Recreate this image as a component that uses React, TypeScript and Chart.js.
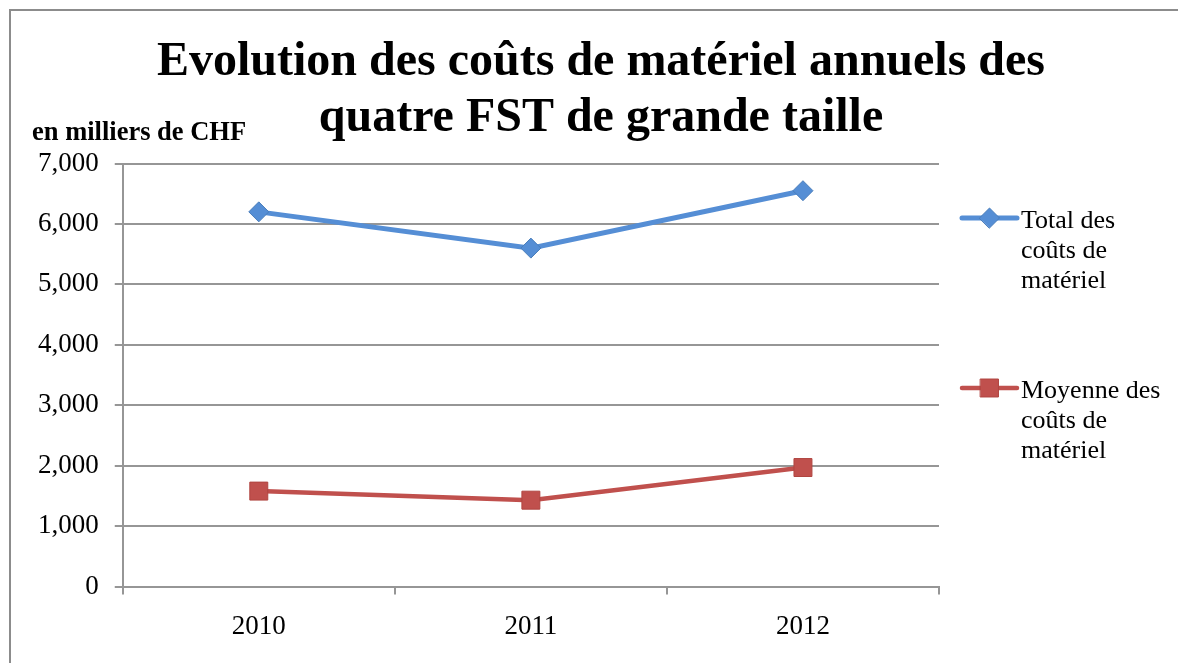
import React, { useEffect, useRef } from "react";
import { Chart, registerables } from "chart.js";

Chart.register(...registerables);

const TITLE_LINES = ["Evolution des coûts de matériel annuels des", "quatre FST de grande taille"];
const Y_LABEL = "en milliers de CHF";
const YEARS = ["2010", "2011", "2012"];
const TOTAL_LABEL = ["Total des", "coûts de", "matériel"];
const MOYENNE_LABEL = ["Moyenne des", "coûts de", "matériel"];
const TOTAL_VALUES = [6200, 5600, 6550];
const MOYENNE_VALUES = [1580, 1430, 1970];

const BLUE = "#558ED5";
const BLUE_DARK = "#4A7EBB";
const RED = "#C0504D";
const RED_DARK = "#B04540";
const GRID = "#969696";
const SERIF = '"Liberation Serif", "Times New Roman", serif';

const textPlugin = {
  id: "customTexts",
  beforeDraw(chart: any) {
    const { ctx, width, height } = chart;
    ctx.save();
    ctx.fillStyle = "#ffffff";
    ctx.fillRect(0, 0, width, height);
    ctx.fillStyle = "#8C8C8C";
    ctx.fillRect(9, 9, 2, height - 9);
    ctx.fillRect(9, 9, width - 9, 2);
    ctx.restore();
  },
  afterDraw(chart: any) {
    const { ctx, chartArea } = chart;
    ctx.save();
    ctx.fillStyle = "#000";
    ctx.textBaseline = "alphabetic";
    // title
    ctx.font = `bold 48px ${SERIF}`;
    ctx.textAlign = "center";
    TITLE_LINES.forEach((t, i) => ctx.fillText(t, 601, 75 + i * 56));
    // y unit label
    ctx.font = `bold 26.5px ${SERIF}`;
    ctx.textAlign = "left";
    ctx.fillText(Y_LABEL, 32, 140);
    // legend
    const items = [
      { lines: TOTAL_LABEL, color: BLUE, border: BLUE_DARK, style: "rectRot", r: 10, lw: 5, y: 218 },
      { lines: MOYENNE_LABEL, color: RED, border: RED_DARK, style: "rect", r: 12.7, lw: 4.5, y: 388 },
    ];
    const x0 = chartArea.right + 23;
    const x1 = chartArea.right + 78;
    items.forEach((it) => {
      ctx.strokeStyle = it.color;
      ctx.lineWidth = it.lw;
      ctx.lineCap = "round";
      ctx.beginPath();
      ctx.moveTo(x0, it.y);
      ctx.lineTo(x1, it.y);
      ctx.stroke();
      ctx.fillStyle = it.color;
      ctx.strokeStyle = it.border;
      ctx.lineWidth = 1;
      const cx = (x0 + x1) / 2;
      const s = it.r;
      ctx.beginPath();
      if (it.style === "rectRot") {
        ctx.moveTo(cx - s, it.y);
        ctx.lineTo(cx, it.y - s);
        ctx.lineTo(cx + s, it.y);
        ctx.lineTo(cx, it.y + s);
        ctx.closePath();
      } else {
        const h = s * Math.SQRT1_2;
        ctx.rect(cx - h, it.y - h, 2 * h, 2 * h);
      }
      ctx.fill();
      ctx.stroke();
      ctx.fillStyle = "#000";
      ctx.font = `26px ${SERIF}`;
      ctx.textAlign = "left";
      it.lines.forEach((l, i) => ctx.fillText(l, x1 + 4, it.y + 10 + i * 30));
    });
    ctx.restore();
  },
};

export default function App() {
  const ref = useRef<HTMLCanvasElement | null>(null);
  useEffect(() => {
    if (!ref.current) return;
    const chart = new Chart(ref.current, {
      type: "line",
      data: {
        labels: YEARS,
        datasets: [
          {
            label: TOTAL_LABEL.join(" "),
            data: TOTAL_VALUES,
            borderColor: BLUE,
            backgroundColor: BLUE,
            borderWidth: 5,
            pointStyle: "rectRot",
            pointRadius: 10,
            pointBackgroundColor: BLUE,
            pointBorderColor: BLUE_DARK,
            pointBorderWidth: 1,
            tension: 0,
            borderCapStyle: "round",
          },
          {
            label: MOYENNE_LABEL.join(" "),
            data: MOYENNE_VALUES,
            borderColor: RED,
            backgroundColor: RED,
            borderWidth: 4.5,
            pointStyle: "rect",
            pointRadius: 12.7,
            pointBackgroundColor: RED,
            pointBorderColor: RED_DARK,
            pointBorderWidth: 1,
            tension: 0,
          },
        ],
      },
      options: {
        animation: false,
        responsive: true,
        maintainAspectRatio: false,
        layout: { padding: { left: 22, right: 239, top: 163.5, bottom: 4 } },
        plugins: {
          legend: { display: false },
          title: { display: false },
          tooltip: { enabled: false },
        },
        scales: {
          x: {
            offset: true,
            grid: { offset: true, drawOnChartArea: false, drawTicks: true, tickLength: 8, color: GRID, lineWidth: 2 },
            border: { color: GRID, width: 2 },
            ticks: { color: "#000", font: { family: SERIF, size: 27 }, padding: 16 },
          },
          y: {
            min: 0,
            max: 7000,
            ticks: {
              stepSize: 1000,
              color: "#000",
              font: { family: SERIF, size: 27 },
              padding: 16,
              callback: (v: any) => Number(v).toLocaleString("en-US"),
            },
            grid: { color: GRID, tickLength: 8, drawTicks: true, lineWidth: 2 },
            border: { color: GRID, width: 2 },
          },
        },
      },
      plugins: [textPlugin],
    });
    return () => chart.destroy();
  }, []);
  return (
    <div style={{ position: "absolute", left: 0, top: 0, width: 1178, height: 663 }}>
      <canvas ref={ref} />
    </div>
  );
}
